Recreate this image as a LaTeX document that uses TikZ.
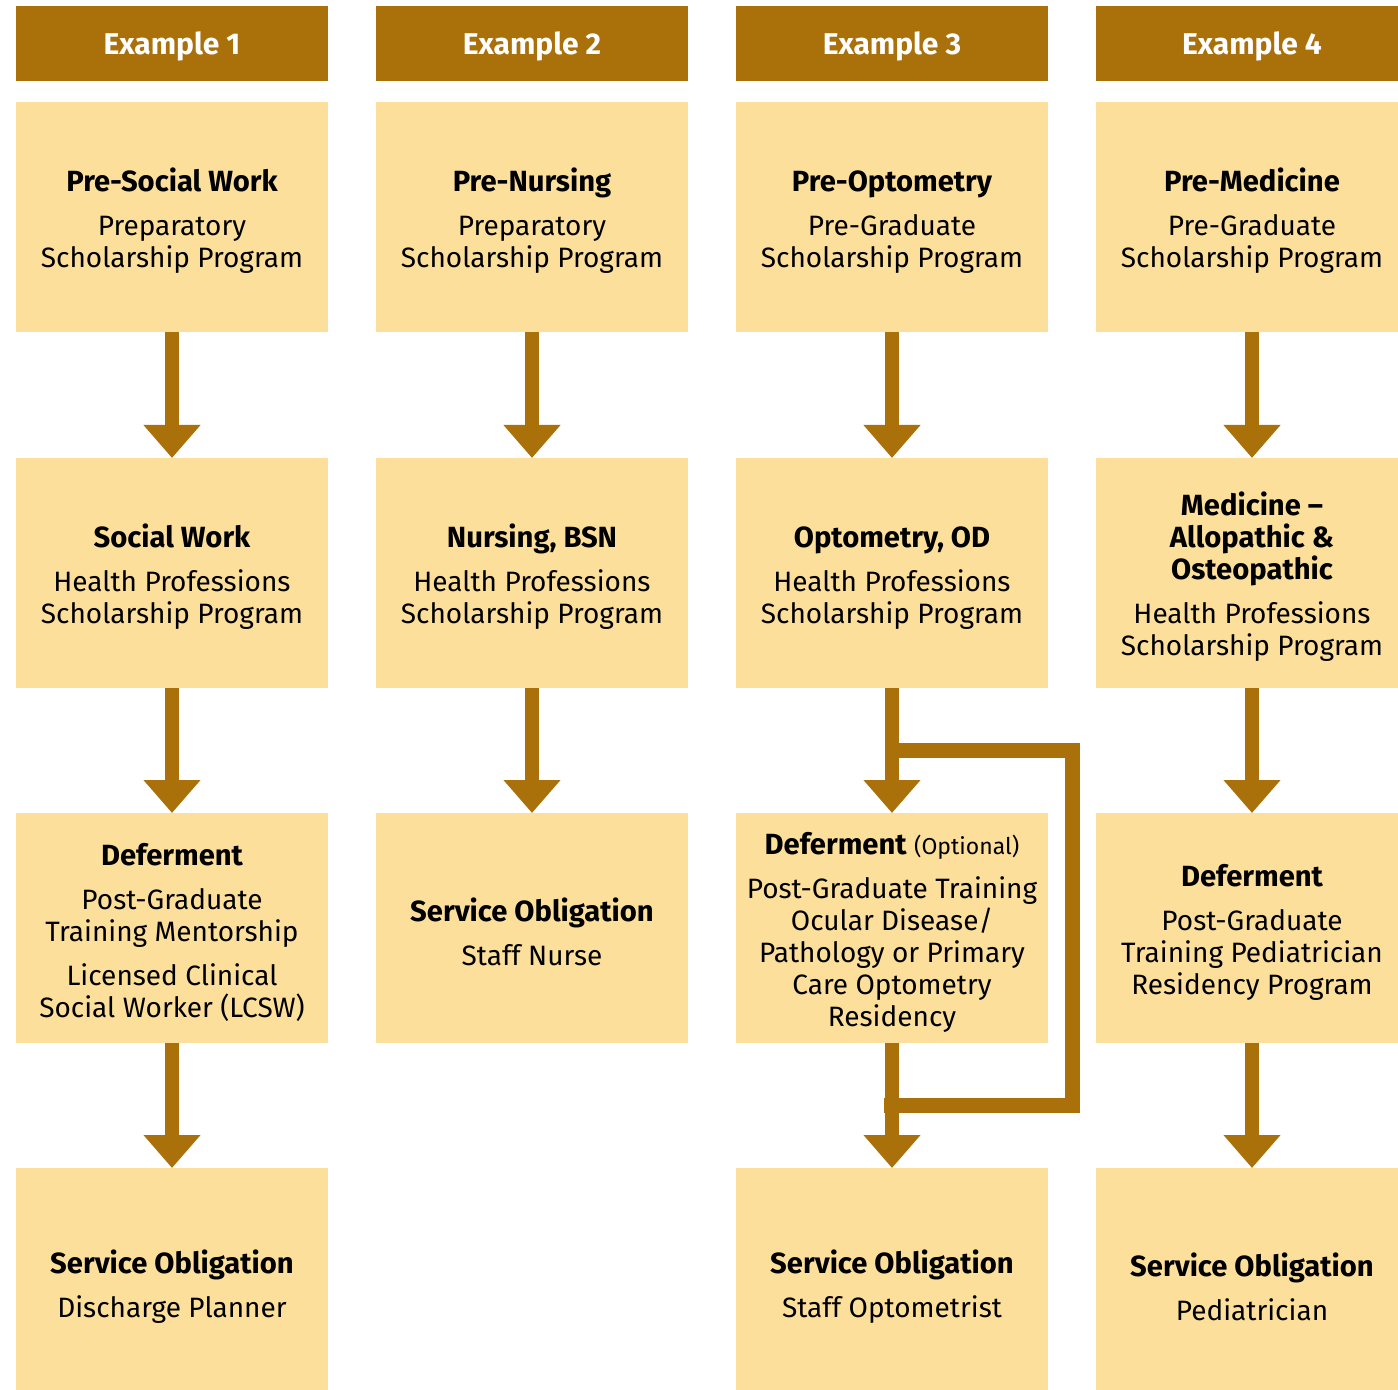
\documentclass[tikz,border=0pt]{standalone}
\usepackage{fontspec}
\setmainfont{Fira Sans}
\usetikzlibrary{positioning, arrows.meta, calc}
\definecolor{gold}{RGB}{170,113,11}
\definecolor{pale}{RGB}{252,223,154}
\newcommand{\sbold}[1]{{\fontsize{14.6}{16}\selectfont\bfseries #1}}
\newcommand{\stitle}[1]{\rule{0pt}{15.5pt}\sbold{#1}}

\begin{document}
\begin{tikzpicture}[x=0.5pt, y=-0.5pt,
	head/.style={fill=gold, text=white, font=\fontsize{15}{18}\selectfont\bfseries, text depth=0pt, minimum width=156pt, minimum height=37.5pt, inner sep=0pt, outer sep=0pt},
	stage/.style={fill=pale, font=\fontsize{14}{16}\selectfont, align=center, minimum width=156pt, minimum height=115pt, inner sep=0pt, outer sep=0pt},
	flow/.style={draw=gold, line width=7pt, -{Triangle[width=27.5pt,length=16.5pt]}},
	bypass/.style={draw=gold, line width=7.5pt, line join=miter}]
			\useasboundingbox (0,0) rectangle (1398,1390);
			\clip (0,0) rectangle (1398,1390);
			% headers
			\node[head] (h1) at (172,43.5) {Example 1};
			\node[head] (h2) at (532,43.5) {Example 2};
			\node[head] (h3) at (892,43.5) {Example 3};
			\node[head] (h4) at (1252,43.5) {Example 4};
			% example 1
			\node[stage] (a1) at (172,217) {\stitle{Pre-Social Work}\\[6pt]Preparatory\\Scholarship Program};
			\node[stage] (b1) at (172,573) {\stitle{Social Work}\\[6pt]Health Professions\\Scholarship Program};
			\node[stage] (c1) at (172,928) {\stitle{Deferment}\\[6pt]Post-Graduate\\Training Mentorship\\[6pt]Licensed Clinical\\Social Worker (LCSW)};
			\node[stage] (d1) at (172,1283) {\stitle{Service Obligation}\\[6pt]Discharge Planner};
			% example 2
			\node[stage] (a2) at (532,217) {\stitle{Pre-Nursing}\\[6pt]Preparatory\\Scholarship Program};
			\node[stage] (b2) at (532,573) {\stitle{Nursing, BSN}\\[6pt]Health Professions\\Scholarship Program};
			\node[stage] (c2) at (532,928) {\stitle{Service Obligation}\\[6pt]Staff Nurse};
			% example 3
			\node[stage] (a3) at (892,217) {\stitle{Pre-Optometry}\\[6pt]Pre-Graduate\\Scholarship Program};
			\node[stage] (b3) at (892,573) {\stitle{Optometry, OD}\\[6pt]Health Professions\\Scholarship Program};
			\node[stage] (c3) at (892,928) {\stitle{Deferment} {\fontsize{11.5}{16}\selectfont(Optional)}\\[6pt]Post-Graduate Training\\Ocular Disease/\\Pathology or Primary\\Care Optometry\\Residency};
			\node[stage] (d3) at (892,1283) {\stitle{Service Obligation}\\[6pt]Staff Optometrist};
			% example 4
			\node[stage] (a4) at (1252,217) {\stitle{Pre-Medicine}\\[6pt]Pre-Graduate\\Scholarship Program};
			\node[stage] (b4) at (1252,573) {\stitle{Medicine –}\\\sbold{Allopathic \&}\\\sbold{Osteopathic}\\[6pt]Health Professions\\Scholarship Program};
			\node[stage] (c4) at (1252,928) {\stitle{Deferment}\\[6pt]Post-Graduate\\Training Pediatrician\\Residency Program};
			\node[stage] (d4) at (1252,1283) {\stitle{Service Obligation}\\[6pt]Pediatrician};
			% arrows
			\draw[flow] (a1) -- (b1);
			\draw[flow] (b1) -- (c1);
			\draw[flow] (c1) -- (d1);
			\draw[flow] (a2) -- (b2);
			\draw[flow] (b2) -- (c2);
			\draw[flow] (a3) -- (b3);
			\draw[flow] (b3) -- (c3);
			\draw[flow] (c3) -- (d3);
			\draw[flow] (a4) -- (b4);
			\draw[flow] (b4) -- (c4);
			\draw[flow] (c4) -- (d4);
			% optional deferment skipped
			\coordinate (s3) at ($(b3.south)!.5!(c3.north)$);
			\coordinate (r3) at ($(c3.east)+(24.5,0)$);
			\coordinate (t3) at ($(c3.south)!.5!(d3.north)+(-8,0)$);
			\draw[bypass] (s3) -| (r3) |- (t3);
		\end{tikzpicture}
\end{document}
